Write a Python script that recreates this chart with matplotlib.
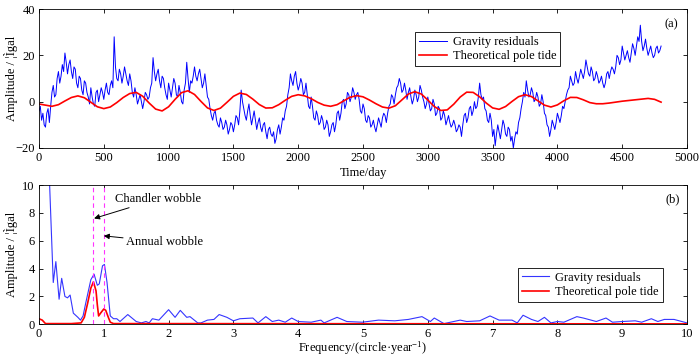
# python3

import numpy as np
import matplotlib
matplotlib.use('Agg')
import matplotlib.pyplot as plt

plt.rcParams['font.family'] = ['Liberation Serif', 'DejaVu Serif']
plt.rcParams['font.size'] = 9
plt.rcParams['mathtext.fontset'] = 'custom'
plt.rcParams['mathtext.rm'] = 'Liberation Serif'
plt.rcParams['mathtext.default'] = 'regular'

# panel (a): gravity residuals, read every 10 days from 0 to 4800
time_grav = np.arange(0, 4801, 10)
grav_resid = [
    -4, -2, -8, -5, -10, -11, -5, -3, -9, -2, 4, 7, 2, 3, 10, 13, 8, 11, 16, 13,
    21, 17, 12, 16, 18, 13, 10, 15, 14, 8, 6, 11, 10, 5, 3, 9, 8, 4, 2, -1,
    6, 2, -1, -2, 4, 5, 0, 3, 6, 4, 1, 5, 8, 4, 3, 7, 9, 6, 28, 15,
    10, 9, 14, 12, 8, 11, 15, 12, 9, 7, 12, 9, 4, 2, 6, 3, -1, 1, 3, 0,
    -3, 0, 4, 3, 1, 2, 6, 8, 19, 13, 9, 12, 14, 9, 6, 11, 10, 6, 3, 1,
    8, 5, 2, 6, 10, 8, 3, 2, 7, 4, 0, -1, 5, 8, 17, 10, 4, 9, 8, 11,
    15, 11, 9, 12, 14, 10, 6, 8, 12, 7, 2, 1, -3, -6, -8, -5, -4, -8, -10, -11,
    -7, -9, -12, -11, -8, -10, -14, -12, -9, -10, -13, -10, -6, -7, -10, -4, 5, 0, -3, -6,
    -8, -4, -1, -6, -10, -7, -4, -8, -12, -9, -7, -11, -13, -10, -9, -13, -16, -12, -11, -14,
    -15, -13, -18, -16, -12, -10, -14, -11, -7, -8, -4, -2, 3, 6, 12, 9, 7, 11, 13, 8,
    5, 7, 10, 8, 3, 4, 8, 3, -2, -3, 2, -2, -7, -8, -4, -6, -10, -9, -6, -8,
    -12, -11, -8, -10, -15, -13, -10, -9, -13, -10, -5, -4, -8, -5, 0, 1, -3, -1, 4, 3,
    0, 2, 6, 4, 1, 3, 4, 1, -4, -5, -1, -3, -8, -9, -6, -7, -11, -10, -8, -11,
    -13, -10, -7, -9, -11, -7, -5, -6, -9, -5, -2, -1, 3, 2, -1, 3, 6, 7, 10, 8,
    4, 5, 8, 5, 1, 4, 6, 2, -1, 1, 5, 3, 0, 2, 7, 5, 2, 0, -3, -1,
    2, -1, -4, -3, 1, -1, -6, -5, -2, -3, -8, -7, -4, -6, -10, -8, -6, -9, -11, -10,
    -8, -10, -13, -12, -10, -11, -15, -10, -6, -5, -9, -7, -3, -2, -6, -4, 0, -3, -2, 2,
    8, 3, 1, 2, -3, -4, -8, -9, -5, -8, -15, -12, -19, -14, -10, -13, -16, -12, -8, -10,
    -14, -15, -11, -12, -17, -15, -20, -16, -13, -14, -9, -7, -3, 0, 4, 2, 9, 5, 2, 3,
    6, 4, 0, 1, 4, 2, -2, -1, 3, 0, -5, -6, -10, -11, -15, -12, -8, -10, -12, -9,
    -5, -7, -9, -6, -2, -3, 0, 3, 5, 6, 11, 9, 7, 8, 13, 10, 8, 11, 14, 12,
    10, 13, 18, 15, 12, 11, 15, 13, 9, 10, 13, 11, 8, 9, 11, 8, 6, 8, 12, 13,
    10, 13, 15, 14, 12, 15, 20, 19, 16, 18, 24, 21, 18, 20, 22, 19, 17, 21, 25, 23,
    20, 24, 28, 26, 33, 26, 22, 24, 27, 23, 20, 22, 24, 21, 19, 20, 23, 24, 21, 22,
    24,
]

# theoretical pole tide, every 50 days
time_tide = np.arange(0, 4801, 50)
pole_tide = [
    -1.0, -1.5, -2.0, -1.3, 0.3, 1.8, 2.5, 1.7, -0.25, -2.2,
    -3.0, -2.3, -0.4, 1.8, 3.5, 4.0, 2.35, -0.6, -3.2, -4.0,
    -2.2, 1.0, 3.9, 4.7, 3.1, 0.1, -2.7, -3.8, -2.8, -0.3,
    2.3, 3.7, 3.1, 1.1, -1.25, -2.75, -2.65, -1.3, 0.6, 2.3,
    3.0, 2.5, 1.3, -0.3, -1.5, -2.0, -1.3, 0.3, 1.9, 2.6,
    2.1, 0.7, -0.9, -2.3, -2.8, -1.75, 0.75, 3.3, 4.3, 3.3,
    0.7, -2.1, -3.8, -3.55, -1.1, 2.0, 4.1, 4.0, 2.1, -0.55,
    -2.7, -3.3, -2.1, 0.1, 2.15, 3.0, 2.2, 0.35, -1.5, -2.3,
    -1.4, 0.4, 1.85, 1.8, 0.8, -0.4, -0.9, -0.9, -0.6, -0.2,
    0.2, 0.5, 0.8, 1.1, 1.4, 1.0, -0.2,
]

# panel (b): amplitude spectra
freq_grav = [
    0.0, 0.1, 0.16, 0.22, 0.26, 0.31, 0.35, 0.40, 0.44, 0.48,
    0.53, 0.60, 0.64, 0.68, 0.72, 0.80, 0.85, 0.90, 0.93, 0.98,
    1.01, 1.05, 1.10, 1.15, 1.20, 1.25, 1.37, 1.50, 1.58, 1.65,
    1.70, 1.75, 1.85, 2.00, 2.10, 2.18, 2.28, 2.33, 2.45, 2.50,
    2.60, 2.70, 2.78, 2.90, 3.00, 3.10, 3.30, 3.38, 3.50, 3.60,
    3.70, 3.80, 3.90, 4.00, 4.20, 4.35, 4.40, 4.60, 4.75, 4.99,
    5.24, 5.49, 5.70, 5.91, 6.04, 6.10, 6.25, 6.50, 6.60, 6.80,
    6.96, 7.10, 7.30, 7.38, 7.47, 7.60, 7.70, 7.80, 7.90, 8.00,
    8.10, 8.30, 8.40, 8.60, 8.75, 8.85, 9.00, 9.20, 9.30, 9.45,
    9.55, 9.65, 9.80, 10.0,
]
amp_grav = [
    30.0, 18.0, 10.5, 3.0, 4.5, 1.8, 3.3, 2.0, 1.9, 2.1,
    0.8, 0.5, 0.3, 0.6, 1.5, 3.2, 3.6, 2.8, 2.9, 4.2,
    4.3, 3.0, 0.6, 0.4, 0.4, 0.2, 0.7, 0.2, 0.1, 0.2,
    0.1, 0.4, 0.3, 1.05, 0.5, 1.0, 0.5, 0.55, 0.1, 0.1,
    0.3, 0.35, 0.7, 0.5, 0.25, 0.4, 0.45, 0.1, 0.55, 0.2,
    0.3, 0.15, 0.45, 0.2, 0.15, 0.3, 0.1, 0.5, 0.2, 0.15,
    0.3, 0.25, 0.35, 0.55, 0.2, 0.45, 0.05, 0.3, 0.2, 0.25,
    0.6, 0.3, 0.3, 0.1, 0.65, 0.35, 0.2, 0.5, 0.1, 0.2,
    0.15, 0.55, 0.45, 0.2, 0.45, 0.15, 0.2, 0.25, 0.15, 0.4,
    0.2, 0.35, 0.35, 0.1,
]

freq_tide = [
    0.0, 0.05, 0.10, 0.50, 0.65, 0.70, 0.75, 0.80, 0.84, 0.88,
    0.90, 0.92, 0.95, 1.00, 1.03, 1.07, 1.10, 1.15, 10.0,
]
amp_tide = [
    0.4, 0.3, 0.05, 0.05, 0.1, 0.5, 1.5, 2.6, 3.05, 2.4,
    1.4, 0.6, 0.8, 1.1, 1.0, 0.5, 0.15, 0.05, 0.03,
]

chandler_freq = 0.84
annual_freq = 1.0


def style_axes(ax):
    ax.tick_params(direction='in', top=True, right=True, length=3, width=0.6, pad=3)
    for s in ax.spines.values():
        s.set_linewidth(0.6)
    # put the y label where the reference has it
    ax.yaxis.set_label_coords(-28 / 648, 0.5)


fig = plt.figure(figsize=(7.0, 3.56), dpi=100)
ax1 = fig.add_axes([39 / 700, 1 - 148 / 356, 648 / 700, 139 / 356])
ax2 = fig.add_axes([39 / 700, 1 - 324.3 / 356, 648 / 700, 139.3 / 356])

# (a)
ax1.plot(time_grav, grav_resid, color='#0000ff', lw=0.7, label='Gravity residuals')
ax1.plot(time_tide, pole_tide, color='#ff0000', lw=1.2, label='Theoretical pole tide')
ax1.set_xlim(0, 5000)
ax1.set_ylim(-20, 40)
ax1.set_xticks(np.arange(0, 5001, 500))
ax1.set_yticks([-20, 0, 20, 40])
ax1.set_xlabel('Time/day', va='center')
ax1.xaxis.set_label_coords(0.5, -25 / 139)
ax1.set_ylabel('Amplitude / ¦Ìgal', va='center')
ax1.text(0.976, 0.89, '(a)', transform=ax1.transAxes, ha='center', va='center')
leg = ax1.legend(loc='upper right', bbox_to_anchor=(0.814, 0.878), fancybox=False,
                 edgecolor='black', framealpha=1, handlelength=2.2, borderpad=0.3,
                 labelspacing=0.2, handletextpad=0.5)
leg.get_frame().set_linewidth(0.6)
style_axes(ax1)

# (b)
ax2.plot(freq_grav, amp_grav, color='#3535ff', lw=0.8, label='Gravity residuals')
ax2.plot(freq_tide, amp_tide, color='#ff0000', lw=1.2, label='Theoretical pole tide')
ax2.axvline(chandler_freq, color='#ff33ff', ls='--', lw=0.8, dashes=(4, 3))
ax2.axvline(annual_freq, color='#ff33ff', ls='--', lw=0.8, dashes=(4, 3))
ax2.set_xlim(0, 10)
ax2.set_ylim(0, 10)
ax2.set_xticks(np.arange(0, 11, 1))
ax2.set_yticks(np.arange(0, 11, 2))
ax2.set_xlabel('Frequency/(circle·year$^{-1}$)', va='center')
ax2.xaxis.set_label_coords(0.5, -24 / 139.3)
ax2.set_ylabel('Amplitude / ¦Ìgal', va='center')
ax2.text(0.978, 0.897, '(b)', transform=ax2.transAxes, ha='center', va='center')
ax2.annotate('Chandler wobble', xy=(0.85, 7.6), xytext=(1.17, 9.0), va='center', ha='left',
             arrowprops=dict(arrowstyle='-|>', color='black', lw=0.7, shrinkA=0, shrinkB=0,
                             mutation_scale=8))
ax2.annotate('Annual wobble', xy=(1.0, 6.35), xytext=(1.34, 5.9), va='center', ha='left',
             arrowprops=dict(arrowstyle='-|>', color='black', lw=0.7, shrinkA=0, shrinkB=0,
                             mutation_scale=8))
leg2 = ax2.legend(loc='lower right', bbox_to_anchor=(0.972, 0.115), fancybox=False,
                  edgecolor='black', framealpha=1, handlelength=2.2, borderpad=0.3,
                  labelspacing=0.2, handletextpad=0.5)
leg2.get_frame().set_linewidth(0.6)
style_axes(ax2)

fig.savefig('out.png', dpi=100)
